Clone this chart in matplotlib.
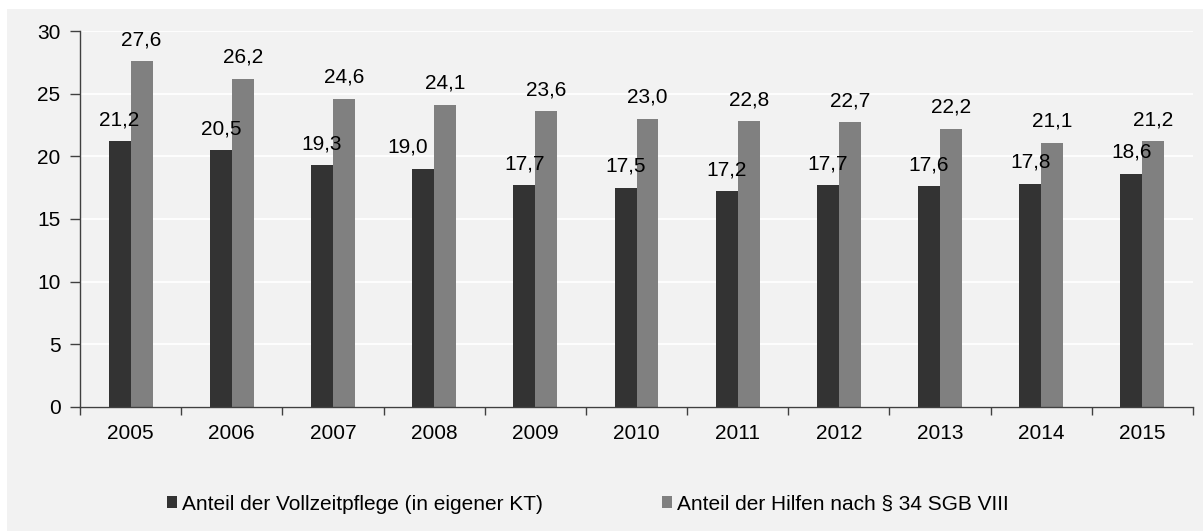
import matplotlib
matplotlib.use("Agg")
import matplotlib.pyplot as plt
from matplotlib.patches import Rectangle
import numpy as np

years = ["2005", "2006", "2007", "2008", "2009", "2010", "2011", "2012", "2013", "2014", "2015"]
vollzeit = [21.2, 20.5, 19.3, 19.0, 17.7, 17.5, 17.2, 17.7, 17.6, 17.8, 18.6]
hilfen34 = [27.6, 26.2, 24.6, 24.1, 23.6, 23.0, 22.8, 22.7, 22.2, 21.1, 21.2]
series_names = ["Anteil der Vollzeitpflege (in eigener KT)", "Anteil der Hilfen nach § 34 SGB VIII"]
yticks = [0, 5, 10, 15, 20, 25, 30]

plt.rcParams['font.family'] = ['Liberation Sans', 'DejaVu Sans']
FS = 15

W, H = 1203, 531
fig = plt.figure(figsize=(W / 100, H / 100), dpi=100, facecolor='white')
bg = Rectangle((7 / W, 0), 1 - 7 / W, (H - 9) / H, transform=fig.transFigure,
               facecolor='#F2F2F2', edgecolor='none', zorder=-10)
fig.patches.append(bg)

ax = fig.add_axes([80 / W, 1 - 407 / H, (1193 - 80) / W, (407 - 31) / H])
ax.set_facecolor('#F2F2F2')

x = np.arange(len(years))
w = 0.217
b1 = ax.bar(x - w / 2, vollzeit, width=w, color='#333333', label=series_names[0], zorder=3)
b2 = ax.bar(x + w / 2, hilfen34, width=w, color='#808080', label=series_names[1], zorder=3)

# horizontal nudges (pixels) for labels that would collide with neighbouring bars
nudge = {(0, 3): -15}

for si, (bars, vals) in enumerate(((b1, vollzeit), (b2, hilfen34))):
    for i, (r, v) in enumerate(zip(bars, vals)):
        ax.annotate(f"{v:.1f}".replace('.', ','), (r.get_x() + r.get_width() / 2, v),
                    xytext=(nudge.get((si, i), 0), 16), textcoords='offset pixels',
                    ha='center', va='baseline', fontsize=FS, color='#000000')

ax.set_xlim(-0.5, len(years) - 0.5)
ax.set_ylim(0, 30)
ax.set_yticks(yticks)
ax.set_yticklabels([str(t) for t in yticks], fontsize=FS)
ax.set_xticks(x)
ax.set_xticklabels(years, fontsize=FS)
ax.set_xticks(np.arange(len(years) + 1) - 0.5, minor=True)
ax.tick_params(axis='x', which='major', length=0, pad=12)
ax.tick_params(axis='x', which='minor', length=6, width=1, color='#404040', direction='out')
ax.tick_params(axis='y', length=7, width=1, color='#404040', direction='out', pad=7)

ax.yaxis.grid(True, color='white', linewidth=1.3, zorder=0)
ax.set_axisbelow(True)
for s in ('top', 'right'):
    ax.spines[s].set_visible(False)
for s in ('left', 'bottom'):
    ax.spines[s].set_color('#404040')
    ax.spines[s].set_linewidth(1)
    ax.spines[s].set_zorder(4)

fig.legend(handles=[b1, b2], loc='center left', bbox_to_anchor=(167 / W, 1 - 504 / H),
           ncol=2, frameon=False, fontsize=FS, handlelength=0.48, handleheight=0.48,
           handletextpad=0.24, columnspacing=5.7, borderpad=0, borderaxespad=0)

fig.savefig("out.png", dpi=100, facecolor='white')
